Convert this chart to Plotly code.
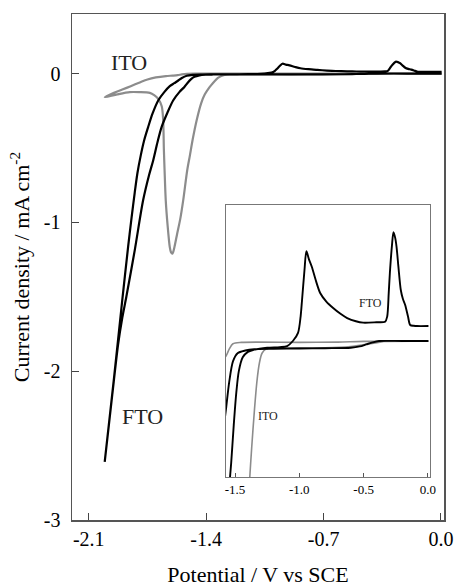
import plotly.graph_objects as go

# ---- data (potential V vs SCE, current density mA cm^-2) ----
fto_x = [0.004, -0.2, -0.38, -0.43, -0.48, -0.53, -0.6, -0.8, -1.0, -1.2, -1.35, -1.42, -1.48,
         -1.516, -1.545, -1.57, -1.59, -1.617, -1.65, -1.686, -1.72, -1.746, -1.77, -1.79, -1.81,
         -1.826, -1.845, -1.865, -1.90, -1.95, -2.005,
         -1.96, -1.925, -1.90, -1.876, -1.826, -1.776, -1.74, -1.716, -1.69, -1.666, -1.63, -1.597, -1.56,
         -1.53, -1.51, -1.49, -1.47, -1.44, -1.40, -1.36, -1.25, -1.15, -1.095, -1.05, -1.01, -0.99, -0.979,
         -0.96, -0.945, -0.925, -0.903, -0.87, -0.838, -0.79, -0.737, -0.68, -0.628, -0.56, -0.504, -0.40,
         -0.333, -0.317, -0.305, -0.296, -0.28, -0.268, -0.255, -0.244, -0.23, -0.211, -0.195, -0.177,
         -0.155, -0.138, -0.11, -0.086, 0.004]
fto_y = [0.0, 0.0, 0.0, -0.001, -0.0025, -0.004, -0.005, -0.0053, -0.0055, -0.0057, -0.006, -0.007, -0.009,
         -0.015, -0.03, -0.05, -0.065, -0.085, -0.125, -0.181, -0.27, -0.36, -0.45, -0.55, -0.67,
         -0.80, -0.97, -1.16, -1.52, -2.05, -2.609,
         -2.16, -1.82, -1.64, -1.50, -1.188, -0.852, -0.68, -0.584, -0.46, -0.36, -0.26, -0.181, -0.125,
         -0.09, -0.062, -0.038, -0.022, -0.012, -0.008, -0.0066, -0.005, -0.0045, -0.0037, 0.0, 0.006, 0.018, 0.030,
         0.052, 0.066, 0.060, 0.0546, 0.044, 0.0353, 0.029, 0.0243, 0.020, 0.0169, 0.0145, 0.0135, 0.0138,
         0.0142, 0.0179, 0.035, 0.050, 0.070, 0.080, 0.076, 0.0693, 0.055, 0.0375, 0.031, 0.0265,
         0.018, 0.0118, 0.0112, 0.0110, 0.011]

ito_x = [0.004, -0.3, -0.45, -0.6, -0.8, -1.0, -1.2, -1.26, -1.29, -1.31, -1.33, -1.35, -1.37, -1.385,
         -1.408, -1.43, -1.457, -1.48, -1.497, -1.513, -1.537, -1.555, -1.573, -1.59, -1.601, -1.61, -1.617,
         -1.63, -1.641, -1.648, -1.652, -1.657, -1.665, -1.686, -1.71, -1.736, -1.80, -1.855, -1.93, -2.005,
         -1.95, -1.90, -1.85, -1.796, -1.75, -1.70, -1.64, -1.60, -1.57, -1.545, -1.516, -1.45, -1.0, -0.7,
         -0.5, 0.004]
ito_y = [0.0, 0.0, -0.002, -0.004, -0.005, -0.005, -0.005, -0.006, -0.009, -0.016, -0.03, -0.052, -0.078, -0.10,
         -0.14, -0.20, -0.315, -0.44, -0.55, -0.65, -0.852, -0.98, -1.076, -1.17, -1.21, -1.20, -1.166,
         -1.02, -0.852, -0.65, -0.517, -0.30, -0.22, -0.17, -0.145, -0.13, -0.125, -0.125, -0.14, -0.159,
         -0.13, -0.108, -0.085, -0.06, -0.04, -0.026, -0.017, -0.014, -0.011, -0.006, -0.002, -0.001, -0.001, -0.0008,
         -0.0003, 0.0]

main_xticks = [-2.1, -1.4, -0.7, 0.0]
main_xlabels = ["-2.1", "-1.4", "-0.7", "0.0"]
main_yticks = [-3, -2, -1, 0]
main_ylabels = ["-3", "-2", "-1", "0"]
inset_xticks = [-1.5, -1.0, -0.5, 0.0]
inset_xlabels = ["-1.5", "-1.0", "-0.5", "0.0"]

FONT = "Liberation Serif"
GRAY = "#8c8c8c"
SMOOTH = 0.8

fig = go.Figure()
# main
fig.add_trace(go.Scatter(x=ito_x, y=ito_y, mode="lines",
                         line=dict(color=GRAY, width=2.2, shape="spline", smoothing=SMOOTH),
                         xaxis="x", yaxis="y", showlegend=False, hoverinfo="skip"))
fig.add_trace(go.Scatter(x=fto_x, y=fto_y, mode="lines",
                         line=dict(color="black", width=2.2, shape="spline", smoothing=SMOOTH),
                         xaxis="x", yaxis="y", showlegend=False, hoverinfo="skip"))
# inset
fig.add_trace(go.Scatter(x=ito_x, y=ito_y, mode="lines",
                         line=dict(color=GRAY, width=1.6, shape="spline", smoothing=SMOOTH),
                         xaxis="x2", yaxis="y2", showlegend=False, hoverinfo="skip"))
fig.add_trace(go.Scatter(x=fto_x, y=fto_y, mode="lines",
                         line=dict(color="black", width=1.9, shape="spline", smoothing=SMOOTH),
                         xaxis="x2", yaxis="y2", showlegend=False, hoverinfo="skip"))

fig.update_layout(
    width=456, height=587,
    margin=dict(l=72, r=12, t=14, b=67),
    paper_bgcolor="white", plot_bgcolor="white",
    font=dict(family=FONT, color="black", size=20),
    xaxis=dict(domain=[0, 1], range=[-2.2, 0.018], tickvals=main_xticks, ticktext=main_xlabels,
               ticks="inside", ticklen=7, tickcolor="#444", showline=True, linecolor="#555", linewidth=1.5,
               mirror=True, showgrid=False, zeroline=False, tickfont=dict(size=20, family=FONT),
               ticklabelstandoff=0, automargin=False,
               title=dict(text="Potential / V vs SCE", font=dict(size=22, family=FONT), standoff=24)),
    yaxis=dict(domain=[0, 1], range=[-3, 0.4], tickvals=main_yticks, ticktext=main_ylabels,
               ticks="inside", ticklen=7, tickcolor="#444", showline=True, linecolor="#555", linewidth=1.5,
               mirror=True, showgrid=False, zeroline=False, tickfont=dict(size=20, family=FONT),
               ticklabelstandoff=6, automargin=False,
               title=dict(text="Current density / mA cm<sup>-2</sup>", font=dict(size=22, family=FONT), standoff=8)),
    xaxis2=dict(domain=[0.414, 0.962], anchor="y2", range=[-1.57, 0.015], tickvals=inset_xticks,
                ticktext=inset_xlabels, ticks="inside", ticklen=4, tickcolor="#555", showline=True,
                linecolor="#777", linewidth=1, mirror=True, showgrid=False, zeroline=False,
                tickfont=dict(size=13, family=FONT), automargin=False),
    yaxis2=dict(domain=[0.085, 0.6225], anchor="x2", range=[-0.1, 0.1], showticklabels=False, ticks="",
                showline=True, linecolor="#777", linewidth=1, mirror=True, showgrid=False, zeroline=False,
                automargin=False),
    annotations=[
        dict(x=-1.861, y=0.074, xref="x", yref="y", text="ITO", showarrow=False,
             font=dict(size=22, family=FONT, color="#222")),
        dict(x=-1.781, y=-2.305, xref="x", yref="y", text="FTO", showarrow=False,
             font=dict(size=22, family=FONT, color="#222")),
        dict(x=-0.449, y=0.0283, xref="x2", yref="y2", text="FTO", showarrow=False,
             font=dict(size=12, family=FONT, color="#222")),
        dict(x=-1.243, y=-0.0551, xref="x2", yref="y2", text="ITO", showarrow=False,
             font=dict(size=12, family=FONT, color="#222")),
    ],
)

fig.write_html("out.html", config={"displayModeBar": False, "staticPlot": True},
               post_script="document.body.style.margin='0';document.body.style.overflow='hidden';")
